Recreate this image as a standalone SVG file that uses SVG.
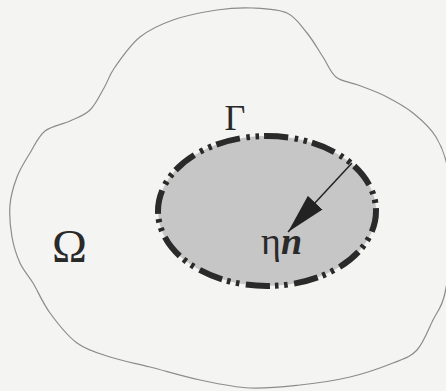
<svg xmlns="http://www.w3.org/2000/svg" width="446" height="391" viewBox="0 0 446 391">
  <style>
    .bg { fill: #f4f4f2; }
    .domain { fill: none; stroke: #8c8c8c; stroke-width: 1.2; stroke-linejoin: round; }
    .inclusion { fill: #c6c6c6; stroke: #2a2a2a; stroke-width: 6; stroke-dasharray: 24 6.5 3.5 5.5 3.5 5; }
    .lbl { font-family: "Liberation Serif", "Times New Roman", serif; fill: #2a2a2a; }
    .conn { stroke: #222; stroke-width: 1.5; fill: none; }
  </style>
  <defs>
    <marker id="head" viewBox="0 0 40 20" refX="40" refY="10" markerWidth="40" markerHeight="20" markerUnits="userSpaceOnUse" orient="auto">
      <path d="M0,0 L40,10 L0,20 Z" fill="#222"/>
    </marker>
  </defs>
  <rect class="bg" x="0" y="0" width="446" height="391"/>
  <g id="omega-domain">
    <path class="domain" d="M253,8 C264.7,8.5 278,8.8 287,13 C296,17.2 301,25.7 307,33 C313,40.3 318.2,49.7 323,57 C327.8,64.3 330.2,72.3 336,77 C341.8,81.7 349.8,81.8 358,85 C366.2,88.2 375.8,91.3 385,96 C394.2,100.7 404.5,106.2 413,113 C421.5,119.8 430.2,127.5 436,137 C441.8,146.5 445.3,154.5 448,170 C450.7,185.5 452.5,209.5 452,230 C451.5,250.5 448.2,278 445,293 C441.8,308 437.7,310.5 433,320 C428.3,329.5 423.7,342.8 417,350 C410.3,357.2 404.2,358.5 393,363 C381.8,367.5 365.5,373.3 350,377 C334.5,380.7 316.7,383.2 300,385 C283.3,386.8 266.7,388.8 250,388 C233.3,387.2 216.7,383.5 200,380 C183.3,376.5 165,370.8 150,367 C135,363.2 122.2,361 110,357 C97.8,353 87,350.3 77,343 C67,335.7 57.3,323 50,313 C42.7,303 38,291.3 33,283 C28,274.7 23.5,270.7 20,263 C16.5,255.3 13.7,246.7 12,237 C10.3,227.3 9.2,215 10,205 C10.8,195 13.7,185.7 17,177 C20.3,168.3 25.3,160.7 30,153 C34.7,145.3 38.3,136.3 45,131 C51.7,125.7 62.5,124.5 70,121 C77.5,117.5 84.3,115.5 90,110 C95.7,104.5 99.8,95.2 104,88 C108.2,80.8 109,75.5 115,67 C121,58.5 130.3,44.8 140,37 C149.7,29.2 160.2,24.5 173,20 C185.8,15.5 203.7,12 217,10 C230.3,8 241.3,7.5 253,8 Z"/>
    <text class="lbl" x="52" y="262" font-size="47">Ω</text>
  </g>
  <g id="inclusion">
    <ellipse class="inclusion" cx="267" cy="211" rx="109" ry="75" pathLength="576" stroke-dashoffset="3"/>
    <text class="lbl" x="235" y="130" font-size="36" text-anchor="middle">Γ</text>
    <text class="lbl" x="261" y="254" font-size="38">η<tspan font-weight="bold" font-style="italic">n</tspan></text>
  </g>
  <g id="connectors">
    <line class="conn" x1="352" y1="163" x2="288" y2="232" marker-end="url(#head)"/>
  </g>
</svg>
